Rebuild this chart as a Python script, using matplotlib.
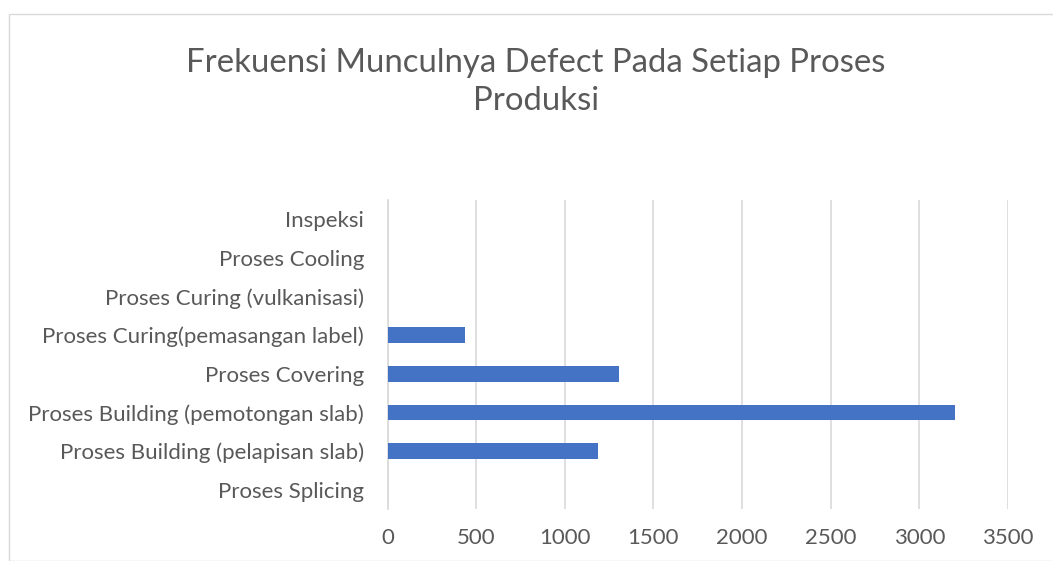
import matplotlib.pyplot as plt
from matplotlib.patches import Rectangle

categories = [
    "Proses Splicing",
    "Proses Building (pelapisan slab)",
    "Proses Building (pemotongan slab)",
    "Proses Covering",
    "Proses Curing(pemasangan label)",
    "Proses Curing (vulkanisasi)",
    "Proses Cooling",
    "Inspeksi",
]
frekuensi = [0, 1185, 3200, 1305, 435, 0, 0, 0]
x_ticks = [0, 500, 1000, 1500, 2000, 2500, 3000, 3500]

TEXT = "#595959"

plt.rcParams['font.family'] = ['Lato', 'DejaVu Sans']

fig = plt.figure(figsize=(10.53, 5.61), dpi=100)
# chart frame like the spreadsheet export
fig.patches.append(Rectangle((9 / 1053, 0), 1.0, 1 - 14 / 561, transform=fig.transFigure,
                             fill=False, edgecolor="#d9d9d9", linewidth=1))

ax = fig.add_axes([387.5 / 1053, 1 - 509 / 561, (1008 - 387.5) / 1053, (509 - 200) / 561])
ax.barh(range(len(categories)), frekuensi, height=0.4, color="#4472c4", zorder=3)

ax.set_xlim(0, 3500)
ax.set_ylim(-0.5, len(categories) - 0.5)
ax.set_xticks(x_ticks)
ax.set_xticklabels([str(t) for t in x_ticks])
ax.set_yticks(range(len(categories)))
ax.set_yticklabels(categories)
ax.tick_params(axis="both", length=0, labelsize=16, colors=TEXT)
ax.tick_params(axis="x", pad=14)
ax.tick_params(axis="y", pad=17)
ax.grid(axis="x", color="#d9d9d9", linewidth=1.2, zorder=0)
for s in ["top", "right", "bottom"]:
    ax.spines[s].set_visible(False)
ax.spines["left"].set_color("#d9d9d9")
ax.spines["left"].set_linewidth(1.2)

fig.text(536 / 1053, 1 - 82 / 561,
         "Frekuensi Munculnya Defect Pada Setiap Proses\nProduksi",
         ha="center", va="center", fontsize=23.7, color=TEXT, linespacing=1.3)

plt.savefig("out.png", dpi=100)
